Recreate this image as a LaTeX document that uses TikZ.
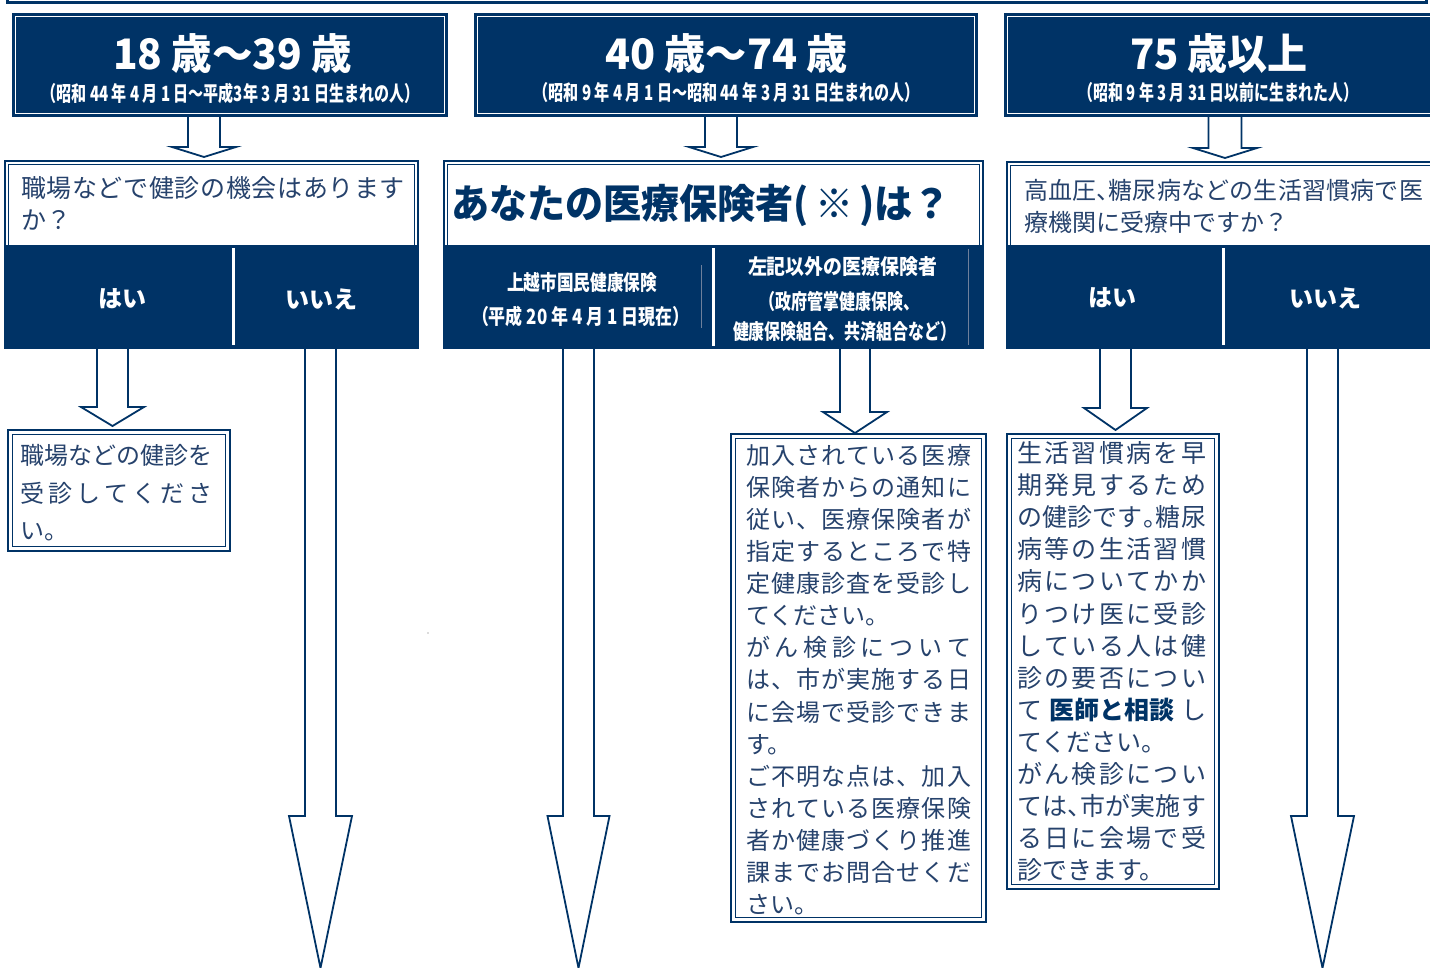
\documentclass[tikz,border=0pt]{standalone}
\usepackage{fontspec}
\usepackage{graphicx}
\setmainfont{Noto Sans CJK JP}
\usetikzlibrary{calc}
\definecolor{navy}{RGB}{0,51,102}
\definecolor{tnavy}{RGB}{38,66,108}
\definecolor{faint}{RGB}{110,128,155}
\makeatletter
\def\spr@a#1{#1\spr@b}
\def\spr@b#1{\ifx\relax#1\else\hfill#1\expandafter\spr@b\fi}
\newcommand\spreadto[2]{\makebox[#1][s]{\spr@a#2\relax}}
\makeatother
\newcommand\hw[1]{\makebox[0.5em][l]{#1}}
\newcommand\fitw[3]{\resizebox{#1}{\height}{\fontsize{#2}{#2}\selectfont #3}}
\newcommand\hollow[5]{%
  \draw[arrowline] let \p1=(#1), \p2=(#2) in
    (\x1-#3,\y1) -- (\x1-#3,\y2+#5) -- (\x1-#4,\y2+#5) -- (\x2,\y2)
    -- (\x1+#4,\y2+#5) -- (\x1+#3,\y2+#5) -- (\x1+#3,\y1);}
\newcommand\hdrbox[4]{%
  \fill[navy] (#1,#2) rectangle (#3,#4);
  \draw[white, line width=0.9pt] (#1+3.5,#2+3.5) rectangle (#3-3.5,#4-3.5);}
\newcommand\qbox[5]{%
  \fill[white] (#1,#2) rectangle (#3,#4);
  \fill[navy] (#1,#5) rectangle (#3,#4);
  \draw[navy, line width=2pt] (#1,#2) rectangle (#3,#4);
  \draw[navy, line width=1pt] (#1+3.5,#2+3.5) rectangle (#3-3.5,#5);}
\newcommand\rbox[4]{%
  \fill[white] (#1,#2) rectangle (#3,#4);
  \draw[navy, line width=2.4pt] (#1,#2) rectangle (#3,#4);
  \draw[navy, line width=1.1pt] (#1+4.2,#2+4.2) rectangle (#3-4.2,#4-4.2);}
\begin{document}
\begin{tikzpicture}[x=1pt,y=-1pt,
  jt/.style={inner sep=0pt, outer sep=0pt, text=tnavy, anchor=base west},
  wt/.style={inner sep=0pt, outer sep=0pt, text=white},
  yn/.style={inner sep=0pt, outer sep=0pt, text=white, font=\fontsize{24}{24}\selectfont\bfseries},
  arrowline/.style={draw=navy, line width=1.8pt, fill=white, line join=miter}]
\useasboundingbox (0,0) rectangle (1430,967);
\clip (0,0) rectangle (1430,967);

% top strip
\draw[navy, line width=2.5pt] (7.5,-10) rectangle (1426.5,2.5);

% arrow end points
\coordinate (a1s) at (204,117);   \coordinate (a1e) at (204,157);
\coordinate (a2s) at (721,117);   \coordinate (a2e) at (721,157);
\coordinate (a3s) at (1225,117);  \coordinate (a3e) at (1225,158);
\coordinate (b1s) at (112.5,348); \coordinate (b1e) at (112.5,426);
\coordinate (b2s) at (320.5,348); \coordinate (b2e) at (320.5,968);
\coordinate (b3s) at (578.5,348); \coordinate (b3e) at (578.5,968);
\coordinate (b4s) at (855,348);   \coordinate (b4e) at (855,433);
\coordinate (b5s) at (1115.5,348);\coordinate (b5e) at (1115.5,430);
\coordinate (b6s) at (1322.5,348);\coordinate (b6e) at (1322.5,968);

\hollow{a1s}{a1e}{16}{32}{10}
\hollow{a2s}{a2e}{16}{32}{10}
\hollow{a3s}{a3e}{16.5}{32}{10}
\hollow{b1s}{b1e}{15.5}{31.5}{19}
\hollow{b2s}{b2e}{15.5}{31.5}{152}
\hollow{b3s}{b3e}{15.5}{31}{152}
\hollow{b4s}{b4e}{15}{32}{21}
\hollow{b5s}{b5e}{15.5}{31.5}{22}
\hollow{b6s}{b6e}{15.5}{31.5}{152}

% header boxes
\hdrbox{12}{13}{448}{117}
\hdrbox{474}{13}{978}{117}
\hdrbox{1004}{13}{1445}{117}

% question boxes
\qbox{5}{161}{418}{348}{245}
\qbox{444}{161}{983}{348}{245}
\qbox{1007}{162}{1445}{348}{245}
\draw[white, line width=3pt] (233,248) -- (233,345);
\draw[white, line width=3pt] (713.5,248) -- (713.5,346);
\draw[white, line width=3pt] (1223,248) -- (1223,345);
\draw[faint, line width=0.7pt] (701,265) -- (701,328);
\draw[faint, line width=0.7pt] (968,249) -- (968,345);

% result boxes
\rbox{8}{430}{230}{551}
\rbox{731}{434}{986}{922}
\rbox{1007}{434}{1219}{889}

\fill[black!60] (428,633) circle (0.6);

% header texts
\node[wt] (t1) at (232.5,54) {\fitw{239pt}{42}{\bfseries 18 歳～39 歳}};
\node[wt] (s1) at (230.5,93) {\fitw{378pt}{21}{\bfseries （昭和 44 年 4 月 1 日～平成3年 3 月 31 日生まれの人）}};
\node[wt] (t2) at (726.5,54) {\fitw{243pt}{42}{\bfseries 40 歳～74 歳}};
\node[wt] (s2) at (726.5,93) {\fitw{386pt}{21}{\bfseries （昭和 9 年 4 月 1 日～昭和 44 年 3 月 31 日生まれの人）}};
\node[wt] (t3) at (1219,54) {\fitw{178pt}{42}{\bfseries 75 歳以上}};
\node[wt] (s3) at (1218.5,93) {\fitw{280pt}{21}{\bfseries （昭和 9 年 3 月 31 日以前に生まれた人）}};

% question texts
\node[jt, font=\fontsize{25}{25}\selectfont] (q1a) at (21,197.5) {\spreadto{384pt}{職場などで健診の機会はあります}};
\node[jt, font=\fontsize{25}{25}\selectfont] (q1b) at (21,229.5) {か？};
\node[yn] (y1) at (122,299) {はい};
\node[yn] (n1) at (321,299) {いいえ};

\node[inner sep=0pt, outer sep=0pt, anchor=west, text=navy] (q2) at (451,205)
  {\fitw{500pt}{40}{\bfseries あなたの医療保険者(\,※\,)は？}};
\node[wt] (c1a) at (582,283) {\fitw{150pt}{21}{\bfseries 上越市国民健康保険}};
\node[wt] (c1b) at (580.5,316) {\fitw{217pt}{21}{\bfseries （平成 20 年 4 月 1 日現在）}};
\node[wt] (c2a) at (842.5,267) {\fitw{189pt}{21}{\bfseries 左記以外の医療保険者}};
\node[wt] (c2b) at (839,301) {\fitw{160pt}{21}{\bfseries （政府管掌健康保険、}};
\node[wt] (c2c) at (844.5,332) {\fitw{223pt}{21}{\bfseries 健康保険組合、共済組合など）}};

\node[jt, font=\fontsize{24}{24}\selectfont] (q3a) at (1024,199) {\spreadto{399pt}{高血圧{\hw{、}}糖尿病などの生活習慣病で医}};
\node[jt, font=\fontsize{24}{24}\selectfont] (q3b) at (1024,231) {療機関に受療中ですか？};
\node[yn] (y3) at (1112,298) {はい};
\node[yn] (n3) at (1325,298) {いいえ};

% result texts
\node[jt, font=\fontsize{24}{24}\selectfont] (r1a) at (20,464) {\spreadto{193pt}{職場などの健診を}};
\node[jt, font=\fontsize{24}{24}\selectfont] (r1b) at (20,502) {\spreadto{193pt}{受診してくださ}};
\node[jt, font=\fontsize{24}{24}\selectfont] (r1c) at (20,539) {い。};

\foreach \t [count=\i from 0] in {%
  {\spreadto{225pt}{加入されている医療}},
  {\spreadto{225pt}{保険者からの通知に}},
  {\spreadto{225pt}{従い、医療保険者が}},
  {\spreadto{225pt}{指定するところで特}},
  {\spreadto{225pt}{定健康診査を受診し}},
  {てください。},
  {\spreadto{225pt}{がん検診について}},
  {\spreadto{225pt}{は、市が実施する日}},
  {\spreadto{225pt}{に会場で受診できま}},
  {す。},
  {\spreadto{225pt}{ご不明な点は、加入}},
  {\spreadto{225pt}{されている医療保険}},
  {\spreadto{225pt}{者か健康づくり推進}},
  {\spreadto{225pt}{課までお問合せくだ}},
  {さい。}}
  \node[jt, font=\fontsize{24}{24}\selectfont] (m\i) at (746,464+32.14*\i) {\t};

\foreach \t [count=\i from 0] in {%
  {\spreadto{189pt}{生活習慣病を早}},
  {\spreadto{189pt}{期発見するため}},
  {\spreadto{189pt}{の健診です{\hw{。}}糖尿}},
  {\spreadto{189pt}{病等の生活習慣}},
  {\spreadto{189pt}{病についてかか}},
  {\spreadto{189pt}{りつけ医に受診}},
  {\spreadto{189pt}{している人は健}},
  {\spreadto{189pt}{診の要否につい}},
  {\spreadto{189pt}{て{\textcolor{navy}{\bfseries 医師と相談}}し}},
  {てください。},
  {\spreadto{189pt}{がん検診につい}},
  {\spreadto{189pt}{ては{\hw{、}}市が実施す}},
  {\spreadto{189pt}{る日に会場で受}},
  {診できます。}}
  \node[jt, font=\fontsize{25}{25}\selectfont] (k\i) at (1017,462.5+32.1*\i) {\t};
\end{tikzpicture}
\end{document}
